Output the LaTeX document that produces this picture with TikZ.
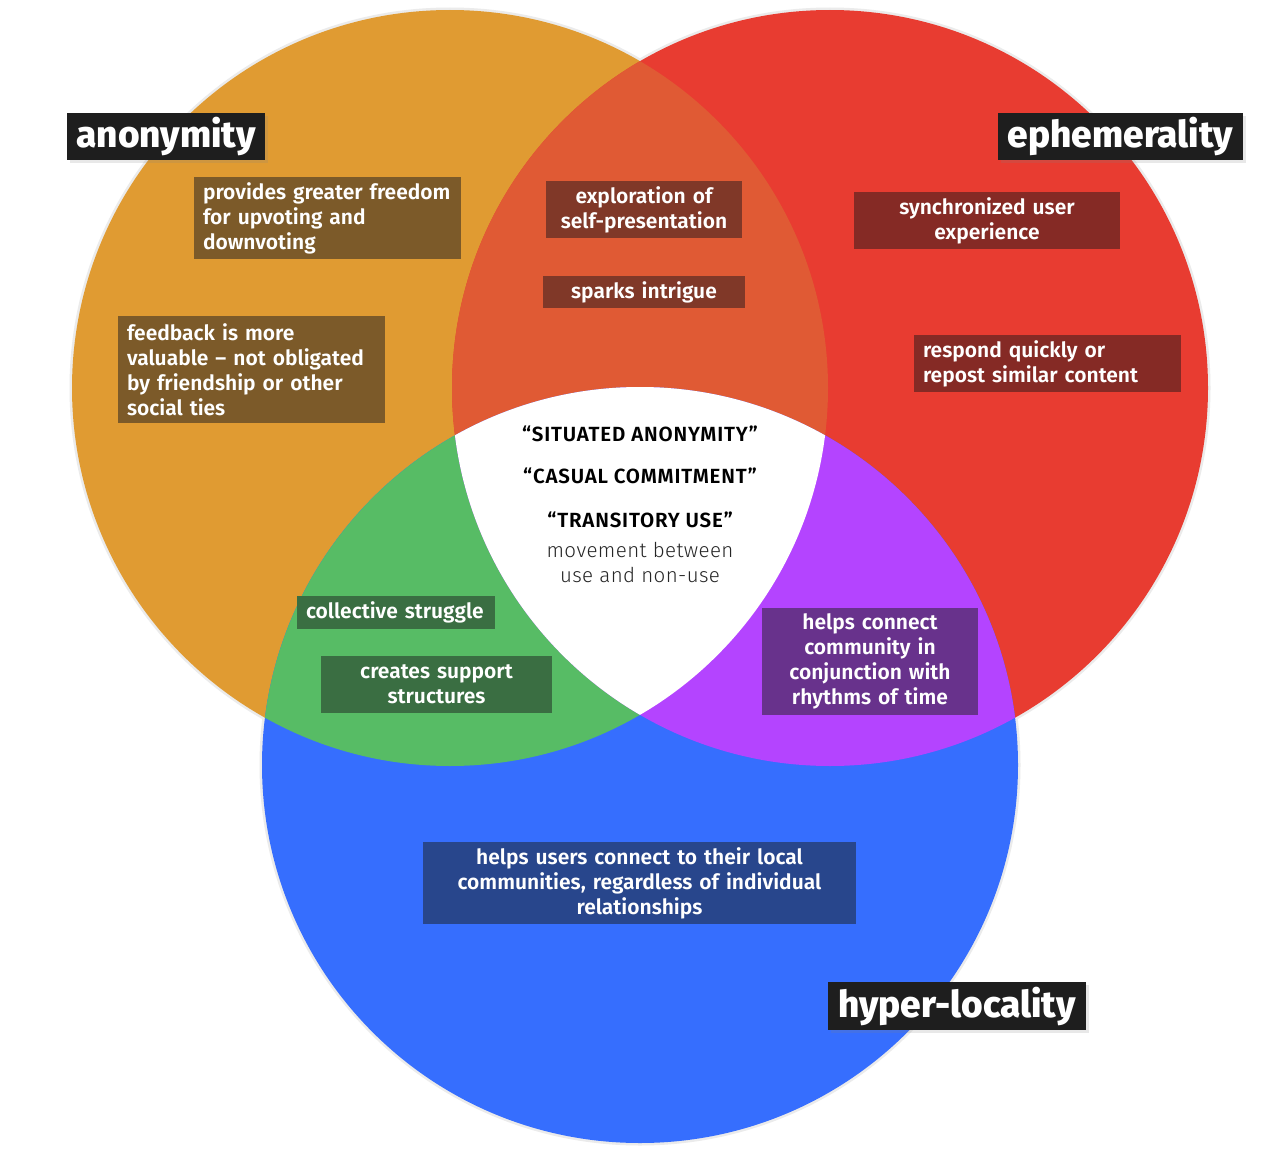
\documentclass[tikz,border=0pt]{standalone}
\usepackage{fontspec}
\setmainfont{Fira Sans}
\newfontfamily\semib{Fira Sans SemiBold}[Ligatures=TeX]
\newfontfamily\semibw{Fira Sans SemiBold}[Ligatures=TeX,LetterSpace=4]
\newfontfamily\xbold{Fira Sans ExtraBold}[Ligatures=TeX]
\newfontfamily\lightf{Fira Sans Light}[Ligatures=TeX,LetterSpace=2]
\usetikzlibrary{shadows}
\definecolor{cOr}{HTML}{E09B32}
\definecolor{cRe}{HTML}{E83C31}
\definecolor{cBl}{HTML}{366EFE}
\definecolor{cOR}{HTML}{E05A34}
\definecolor{cGr}{HTML}{57BC65}
\definecolor{cPu}{HTML}{B444FF}
\definecolor{bOr}{HTML}{7C5A29}
\definecolor{bOR}{HTML}{803828}
\definecolor{bRe}{HTML}{852A25}
\definecolor{bGr}{HTML}{3A6E42}
\definecolor{bPu}{HTML}{68328C}
\definecolor{bBl}{HTML}{28468C}
\definecolor{tBk}{HTML}{1E1E1E}
\tikzset{
  lbl/.style={text=white, font=\semib\fontsize{21}{25}\selectfont, inner xsep=9pt, inner ysep=0pt},
  ttl/.style={fill=tBk, text=white, font=\xbold\fontsize{37}{40}\selectfont, inner sep=0pt,
     drop shadow={opacity=0.18, shadow xshift=3pt, shadow yshift=-3pt}},
  ctr/.style={text=black, font=\semibw\fontsize{20.5}{24}\selectfont, inner sep=0pt},
  ctl/.style={text=black!85, font=\lightf\fontsize{20.5}{25}\selectfont, inner sep=0pt, align=center},
  halo/.style={draw=black!8, line width=5pt}
}
\begin{document}
\begin{tikzpicture}[x=1pt,y=-1pt]
\useasboundingbox (0,0) rectangle (1280,1156);
\fill[white] (0,0) rectangle (1280,1156);
% halos
\draw[halo] (450,388) circle (378pt);
\draw[halo] (830,388) circle (378pt);
\draw[halo] (640,765) circle (378pt);
% circles
\fill[cOr] (450,388) circle (378pt);
\fill[cRe] (830,388) circle (378pt);
\fill[cBl] (640,765) circle (378pt);
% overlaps
\begin{scope}
  \clip (450,388) circle (378pt);
  \fill[cOR] (830,388) circle (378pt);
  \fill[cGr] (640,765) circle (378pt);
\end{scope}
\begin{scope}
  \clip (830,388) circle (378pt);
  \fill[cPu] (640,765) circle (378pt);
\end{scope}
\begin{scope}
  \clip (450,388) circle (378pt);
  \clip (830,388) circle (378pt);
  \fill[white] (640,765) circle (378pt);
\end{scope}

% titles
\node[ttl, minimum width=198pt, minimum height=47pt] (tA) at (166,136.5) {anonymity};
\node[ttl, minimum width=245pt, minimum height=47pt] (tE) at (1120.5,136.5) {ephemerality};
\node[ttl, minimum width=258pt, minimum height=48pt] (tH) at (957,1006) {hyper-locality};

% anonymity
\node[lbl, fill=bOr, text width=249pt, minimum height=82pt, align=left] (n1) at (327.5,218)
  {\raisebox{-2pt}{}provides greater freedom\\for upvoting and\\downvoting};
\node[lbl, fill=bOr, text width=249pt, minimum height=107pt, align=left] (n2) at (251.5,369.5)
  {feedback is more\\valuable – not obligated\\by friendship or other\\social ties};
% anonymity & ephemerality
\node[lbl, fill=bOR, text width=178pt, minimum height=57pt, align=center] (n3) at (644,209.5)
  {exploration of\\self-presentation};
\node[lbl, fill=bOR, text width=184pt, minimum height=32pt, align=center] (n4) at (644,292)
  {sparks intrigue};
% ephemerality
\node[lbl, fill=bRe, text width=248pt, minimum height=57pt, align=center] (n5) at (987,220.5)
  {synchronized user\\experience};
\node[lbl, fill=bRe, text width=249pt, minimum height=57pt, align=left] (n6) at (1047.5,363.5)
  {respond quickly or\\repost similar content};
% anonymity & hyper-locality
\node[lbl, fill=bGr, text width=180pt, minimum height=33pt, align=left] (n7) at (396,612.5)
  {collective struggle};
\node[lbl, fill=bGr, text width=213pt, minimum height=57pt, align=center] (n8) at (436.5,684.5)
  {creates support\\structures};
% ephemerality & hyper-locality
\node[lbl, fill=bPu, text width=198pt, minimum height=107pt, align=center] (n9) at (870,661.5)
  {helps connect\\community in\\conjunction with\\rhythms of time};
% hyper-locality
\node[lbl, fill=bBl, text width=415pt, minimum height=82pt, align=center] (n10) at (639.5,883)
  {helps users connect to their local\\communities, regardless of individual\\relationships};

% centre
\node[ctr] (c1) at (640,434) {“SITUATED ANONYMITY”};
\node[ctr] (c2) at (640,476) {“CASUAL COMMITMENT”};
\node[ctr] (c3) at (640,520) {“TRANSITORY USE”};
\node[ctl] (c4) at (640,562) {movement between\\use and non-use};
\end{tikzpicture}
\end{document}
